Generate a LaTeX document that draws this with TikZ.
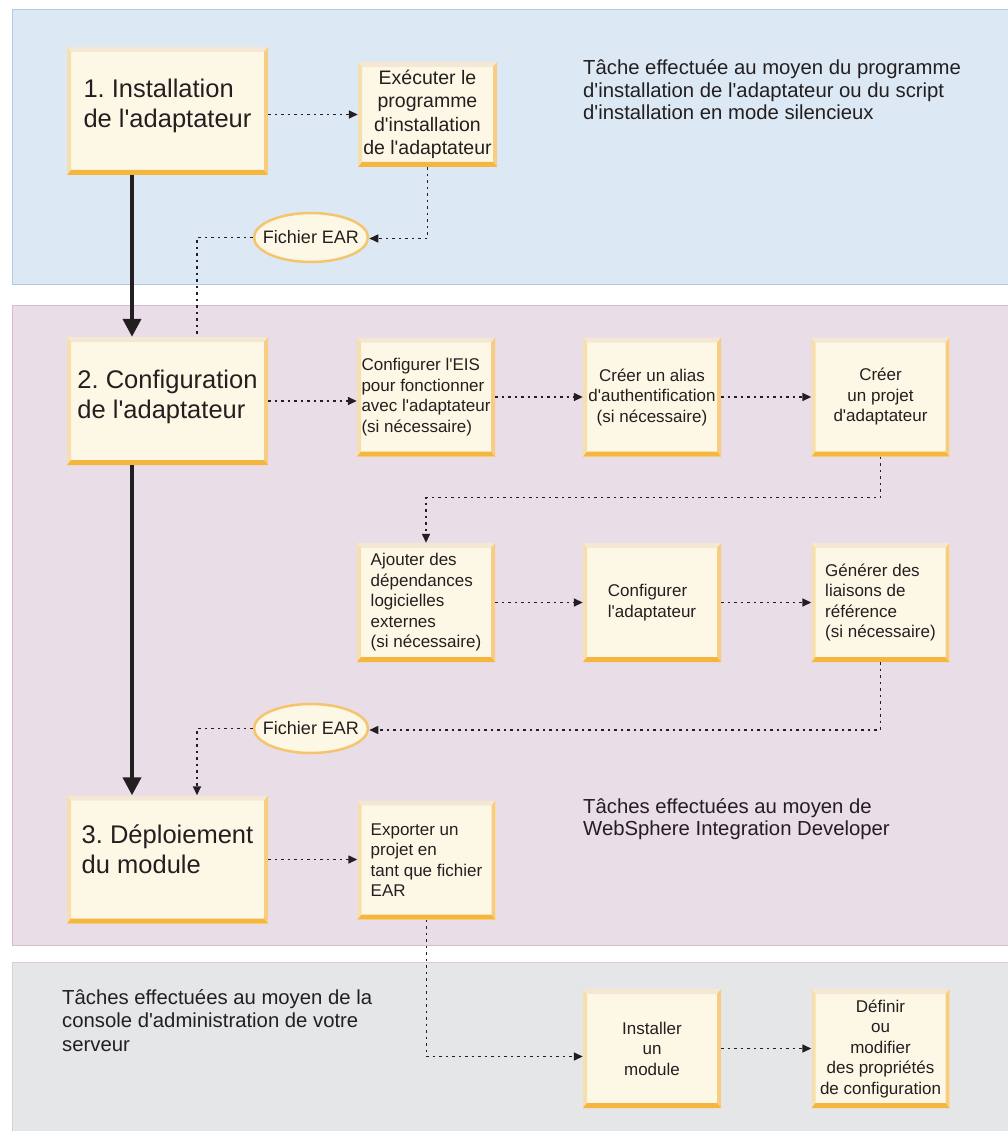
\documentclass[tikz,border=0pt]{standalone}
\usepackage{fontspec}
\setmainfont{Liberation Sans}[Ligatures=TeXOff]
\usetikzlibrary{arrows.meta,shapes.geometric,calc}
\definecolor{ink}{HTML}{231F20}
\definecolor{bluefill}{HTML}{DCE9F5}
\definecolor{blueline}{HTML}{AECBEA}
\definecolor{pinkfill}{HTML}{E9DDE7}
\definecolor{pinkline}{HTML}{DDBACB}
\definecolor{grayfill}{HTML}{E5E6E8}
\definecolor{grayline}{HTML}{DCCCD6}
\definecolor{boxfill}{HTML}{FDF8E5}
\definecolor{bvtop}{HTML}{F4E8D4}
\definecolor{bvleft}{HTML}{F6DFAE}
\definecolor{bvright}{HTML}{F7CD84}
\definecolor{bvbot}{HTML}{F4B63F}
\definecolor{ellline}{HTML}{F5C46E}
\tikzset{
  panel/.style={line width=1pt},
  bevelbox/.style={shape=rectangle, fill=boxfill, inner sep=0pt, text=ink,
    path picture={
      \fill[bvtop] (path picture bounding box.north west) -- (path picture bounding box.north east)
        -- ([shift={(-4pt,-5pt)}]path picture bounding box.north east) -- ([shift={(4pt,-5pt)}]path picture bounding box.north west) -- cycle;
      \fill[bvleft] (path picture bounding box.north west) -- ([shift={(4pt,-5pt)}]path picture bounding box.north west)
        -- ([shift={(4pt,5pt)}]path picture bounding box.south west) -- (path picture bounding box.south west) -- cycle;
      \fill[bvright] (path picture bounding box.north east) -- ([shift={(-4pt,-5pt)}]path picture bounding box.north east)
        -- ([shift={(-4pt,5pt)}]path picture bounding box.south east) -- (path picture bounding box.south east) -- cycle;
      \fill[bvbot] (path picture bounding box.south west) -- ([shift={(4pt,5pt)}]path picture bounding box.south west)
        -- ([shift={(-4pt,5pt)}]path picture bounding box.south east) -- (path picture bounding box.south east) -- cycle;
    }},
  bigbox/.style={bevelbox, minimum width=201pt, minimum height=128pt},
  smallbox/.style={bevelbox, minimum width=138pt, minimum height=119pt,
    font=\fontsize{17}{20.5}\selectfont},
  bigtxt/.style={text=ink, align=left, inner sep=0pt, font=\fontsize{25.5}{30}\selectfont},
  earfile/.style={ellipse, draw=ellline, line width=2.5pt, fill=boxfill, text=ink,
    minimum width=114pt, minimum height=49pt, inner xsep=-9pt, inner ysep=0pt, font=\fontsize{18}{20}\selectfont},
  sidetxt/.style={text=ink, align=left, anchor=west, inner sep=0pt, font=\fontsize{20.3}{22.5}\selectfont},
  flow/.style={ink, line width=1.5pt, dash pattern=on 2.5pt off 4pt},
  flowarrow/.style={flow, -{Triangle[width=8pt,length=9pt]}},
  mainarrow/.style={ink, line width=4pt, -{Triangle[width=18pt,length=18pt]}}
}
\begin{document}
\frenchspacing
\begin{tikzpicture}[x=1pt,y=-1pt]
\useasboundingbox (0,0) rectangle (1008,1131);
% panels
\filldraw[panel, fill=bluefill, draw=blueline] (12,10) rectangle (1012,285);
\filldraw[panel, fill=pinkfill, draw=pinkline] (12,305) rectangle (1012,945);
\filldraw[panel, fill=grayfill, draw=grayline] (12,962) rectangle (1012,1140);

% side texts
\node[sidetxt] (lab1) at (583,90) {Tâche effectuée au moyen du programme\\d'installation de l'adaptateur ou du script\\d'installation en mode silencieux};
\node[sidetxt] (lab2) at (583,819) {Tâches effectuées au moyen de\\WebSphere Integration Developer};
\node[sidetxt, font=\fontsize{20.3}{23.3}\selectfont] (lab3) at (62,1020.5) {Tâches effectuées au moyen de la\\console d'administration de votre\\serveur};

% main boxes
\node[bigbox] (b1) at (167.5,111) {};
\node[bigtxt] (b1t) at ([yshift=5pt]b1.center) {1. Installation\\de l'adaptateur};
\node[bigbox] (b2) at (167.5,401) {};
\node[bigtxt] (b2t) at ([yshift=4.5pt]b2.center) {2. Configuration\\de l'adaptateur};
\node[bigbox] (b3) at (167.5,859.5) {};
\node[bigtxt] (b3t) at ([yshift=10pt]b3.center) {3. Déploiement\\du module};

% small boxes
\node[smallbox, minimum width=139pt, minimum height=105pt, align=center, font=\fontsize{19.5}{23.5}\selectfont] (exec) at (427.5,114.5) {Exécuter le\\programme\\d'installation\\de l'adaptateur};
\node[smallbox, align=left] (eis) at (426,397) {Configurer l'EIS\\pour fonctionner\\avec l'adaptateur\\(si nécessaire)};
\node[smallbox, align=center] (alias) at (652,397) {Créer un alias\\d'authentification\\(si nécessaire)};
\node[smallbox, align=center] (projet) at (880.5,397) {Créer\\un projet\\d'adaptateur};
\node[smallbox, align=left] (ajout) at (426,602.5) {Ajouter des\\dépendances\\logicielles\\externes\\(si nécessaire)};
\node[smallbox, align=left] (config) at (652,602.5) {Configurer\\l'adaptateur};
\node[smallbox, align=left] (gener) at (880.5,602.5) {Générer des\\liaisons de\\référence\\(si nécessaire)};
\node[smallbox, align=left] (export) at (426.5,860) {Exporter un\\projet en\\tant que fichier\\EAR};
\node[smallbox, align=center] (instal) at (652,1048.5) {Installer\\un\\module};
\node[smallbox, align=center] (defin) at (880.5,1048.5) {Définir\\ou\\modifier\\des propriétés\\de configuration};

% EAR files
\node[earfile] (ear1) at (311,237.5) {Fichier EAR};
\node[earfile] (ear2) at (311,728.5) {Fichier EAR};

% main flow
\draw[mainarrow] ([xshift=-35.5pt]b1.south) -- ([xshift=-35.5pt]b2.north);
\draw[mainarrow] ([xshift=-35.5pt]b2.south) -- ([xshift=-35.5pt]b3.north);

% dotted connectors
\draw[flowarrow] (b1.east |- exec.west) -- (exec.west);
\draw[flowarrow] (exec.south) |- ([yshift=-1pt]ear1.east);
\draw[flow] (ear1.west) -| ([xshift=29.5pt]b2.north);
\draw[flowarrow] (b2.east) -- (b2.east -| eis.west);
\draw[flowarrow] (eis.east) -- (alias.west);
\draw[flowarrow] (alias.east) -- (projet.west);
\draw[flowarrow] (projet.south) -- ++(0,41) -| (ajout.north);
\draw[flowarrow] (ajout.east) -- (config.west);
\draw[flowarrow] (config.east) -- (gener.west);
\draw[flowarrow] (gener.south) |- ([yshift=-1.5pt]ear2.east);
\draw[flowarrow] (ear2.west) -| ([xshift=29.5pt]b3.north);
\draw[flowarrow] (b3.east) -- (b3.east -| export.west);
\draw[flowarrow] (export.south) |- ([yshift=-8pt]instal.west);
\draw[flowarrow] (instal.east) -- (defin.west);
\end{tikzpicture}
\end{document}
